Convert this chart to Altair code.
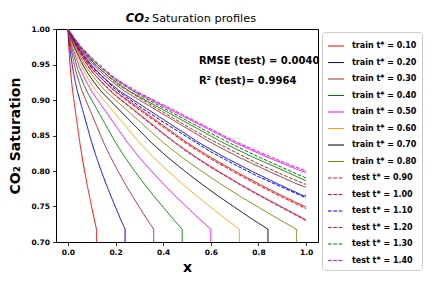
import altair as alt
import pandas as pd

# Self-similar saturation profile: S as a function of xi = x / t*
profile_xi = [0.0, 0.02, 0.04, 0.06, 0.08, 0.10, 0.13, 0.16, 0.20, 0.25, 0.30, 0.35,
              0.40, 0.50, 0.60, 0.70, 0.80, 0.90, 1.00, 1.10, 1.20]
profile_s = [1.000, 0.986, 0.974, 0.964, 0.954, 0.945, 0.934, 0.924, 0.912, 0.900, 0.888,
             0.876, 0.864, 0.840, 0.819, 0.800, 0.782, 0.765, 0.749, 0.733, 0.718]

train_times = [0.10, 0.20, 0.30, 0.40, 0.50, 0.60, 0.70, 0.80]
train_colors = ["#ff0000", "#0000ff", "#a52a2a", "#008000", "#ff00ff", "#ffa500", "#000000", "#808000"]
front_bottom = 0.70

test_times = [0.90, 1.00, 1.10, 1.20, 1.30, 1.40]
test_colors = ["#dc143c", "#ff0000", "#0000ff", "#a52a2a", "#008000", "#ff00ff"]
truth_end_s = [0.731, 0.749, 0.765, 0.777, 0.786, 0.798]

test_x = [0.0, 0.05, 0.1, 0.2, 0.3, 0.4, 0.5, 0.6, 0.7, 0.8, 0.9, 1.0]
pred_090 = [1.0, 0.966, 0.940, 0.906, 0.879, 0.852, 0.827, 0.805, 0.785, 0.766, 0.748, 0.730]
pred_100 = [1.0, 0.968, 0.944, 0.911, 0.886, 0.862, 0.838, 0.817, 0.798, 0.780, 0.763, 0.747]
pred_110 = [1.0, 0.970, 0.947, 0.915, 0.891, 0.869, 0.848, 0.827, 0.809, 0.792, 0.777, 0.762]
pred_120 = [1.0, 0.974, 0.954, 0.924, 0.903, 0.883, 0.863, 0.844, 0.827, 0.810, 0.795, 0.781]
pred_130 = [1.0, 0.976, 0.957, 0.928, 0.907, 0.889, 0.871, 0.853, 0.836, 0.820, 0.805, 0.790]
pred_140 = [1.0, 0.977, 0.959, 0.930, 0.910, 0.893, 0.876, 0.859, 0.842, 0.827, 0.813, 0.800]
preds = [pred_090, pred_100, pred_110, pred_120, pred_130, pred_140]

x_ticks = [0.0, 0.2, 0.4, 0.6, 0.8, 1.0]
y_ticks = [0.70, 0.75, 0.80, 0.85, 0.90, 0.95, 1.00]

rmse_text = "RMSE (test) = 0.0040"
r2_text = "R\u00b2 (test)= 0.9964"

# ---- build table ----
rows = []
train_labels = [f"train t* = {t:.2f}" for t in train_times]
test_labels = [f"test t* = {t:.2f}" for t in test_times]
truth_labels = [f"true t* = {t:.2f}" for t in test_times]

for t, lab in zip(train_times, train_labels):
    i = 0
    for xi, s in zip(profile_xi, profile_s):
        rows.append({"x": xi * t, "s": s, "series": lab, "i": i}); i += 1
    rows.append({"x": profile_xi[-1] * t, "s": front_bottom, "series": lab, "i": i})

for t, lab, s_end in zip(test_times, truth_labels, truth_end_s):
    i = 0
    for xi, s in zip(profile_xi, profile_s):
        if xi * t < 1.0:
            rows.append({"x": xi * t, "s": s, "series": lab, "i": i}); i += 1
    rows.append({"x": 1.0, "s": s_end, "series": lab, "i": i})

for lab, p in zip(test_labels, preds):
    for i, (x, s) in enumerate(zip(test_x, p)):
        rows.append({"x": x, "s": s, "series": lab, "i": i})

df = pd.DataFrame(rows)

legend_labels = train_labels + test_labels
domain = train_labels + test_labels + truth_labels
colors = train_colors + test_colors + test_colors
dashes = [[1, 0]] * len(train_labels) + [[3.7, 1.6]] * len(test_labels) + [[1, 0]] * len(truth_labels)

legend = alt.Legend(
    title=None, values=legend_labels, orient="none", legendX=266, legendY=3,
    symbolType="stroke", symbolSize=256, symbolStrokeWidth=1.2,
    labelFont="DejaVu Sans", labelFontWeight="bold", labelFontSize=8, labelColor="black",
    labelOffset=7, rowPadding=3.5, padding=5, strokeColor="#cccccc", cornerRadius=3,
    fillColor="white",
)

x_enc = alt.X("x:Q", scale=alt.Scale(domain=[-0.05, 1.05], nice=False, zero=False),
              axis=alt.Axis(values=x_ticks, format=".1f", title="x", labelOverlap=False))
y_enc = alt.Y("s:Q", scale=alt.Scale(domain=[0.70, 1.00], nice=False, zero=False),
              axis=alt.Axis(values=y_ticks, format=".2f", title="CO\u2082 Saturation",
                            labelOverlap=False))

lines = alt.Chart(df).mark_line(strokeWidth=1, clip=True).encode(
    x=x_enc, y=y_enc,
    color=alt.Color("series:N", scale=alt.Scale(domain=domain, range=colors), legend=legend, sort=domain),
    strokeDash=alt.StrokeDash("series:N", scale=alt.Scale(domain=domain, range=dashes), legend=legend, sort=domain),
    order=alt.Order("i:Q"),
)

ann_df = pd.DataFrame({"x": [0.55, 0.55], "s": [0.955, 0.927], "t": [rmse_text, r2_text]})
ann = alt.Chart(ann_df).mark_text(align="left", baseline="middle", font="DejaVu Sans",
                                  fontWeight="bold", fontSize=10, color="black").encode(
    x=x_enc, y=y_enc, text="t:N")

title1 = alt.Chart(pd.DataFrame({"t": ["CO\u2082"]})).mark_text(
    align="right", baseline="alphabetic", font="DejaVu Sans", fontWeight="bold",
    fontStyle="italic", fontSize=11.5, color="black").encode(
    x=alt.value(93), y=alt.value(-7), text="t:N")
title2 = alt.Chart(pd.DataFrame({"t": ["Saturation profiles"]})).mark_text(
    align="left", baseline="alphabetic", font="DejaVu Sans", fontSize=11.3, color="black").encode(
    x=alt.value(96), y=alt.value(-7), text="t:N")

chart = alt.layer(lines, ann, title1, title2).properties(
    width=262, height=213,
    autosize=alt.AutoSizeParams(type="none"),
    padding={"left": 48, "top": 21, "right": 106, "bottom": 38},
).configure_view(stroke="black", strokeWidth=1).configure_axis(
    grid=False, domainColor="black", tickColor="black", tickSize=3.5, tickWidth=0.8,
    labelOverlap=False,
    labelFont="DejaVu Sans", labelFontWeight="bold", labelFontSize=7.5, labelColor="black",
    titleFont="DejaVu Sans", titleFontWeight="bold", titleColor="black",
).configure_axisX(titleFontSize=14, labelPadding=3, titlePadding=4).configure_axisY(
    titleFontSize=14, labelPadding=3, titlePadding=8)

chart.save("out.html", embed_options={"renderer": "svg", "actions": False})
